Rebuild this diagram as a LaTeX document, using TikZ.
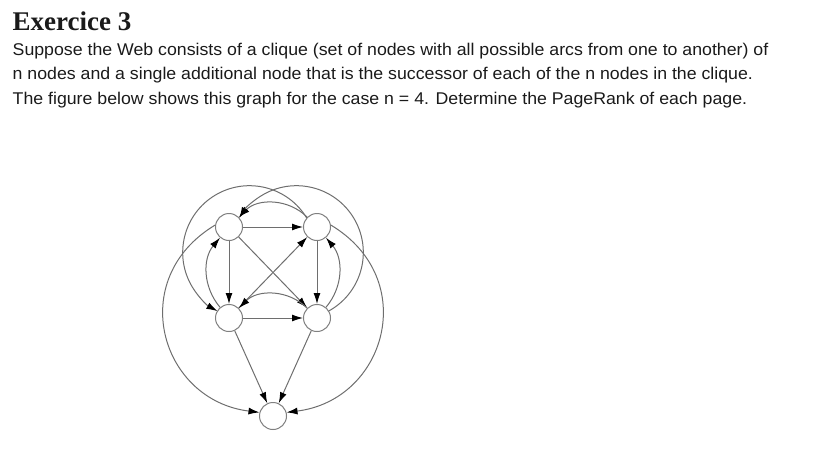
\documentclass[tikz,border=0pt]{standalone}
\usepackage{fontspec}
\setmainfont{Liberation Serif}
\newfontfamily\bodyfont{Liberation Sans}
\usetikzlibrary{arrows.meta,calc}
\definecolor{edgegray}{HTML}{6E6E6E}
\definecolor{nodegray}{HTML}{808080}
\definecolor{textblack}{HTML}{1A1A1A}
\begin{document}
\begin{tikzpicture}[x=1pt,y=1pt,
  pagenode/.style={circle,draw=nodegray,fill=white,line width=1pt,minimum size=27pt,inner sep=0pt},
  link/.style={draw=edgegray,line width=1pt,-{Latex[length=11pt,width=7pt,color=black]}},
  bodytext/.style={anchor=base west,inner sep=0pt,text=textblack,font=\bodyfont\fontsize{17}{20}\selectfont}]
\useasboundingbox (0,0) rectangle (833,-461);
\node[anchor=base west,inner sep=0pt,text=textblack,font=\fontsize{27}{30}\selectfont\bfseries] (title) at (12.5,-30.5) {Exercice 3};
\node[bodytext] (l1) at (12.5,-55) {\scalebox{1.043}[1]{Suppose the Web consists of a clique (set of nodes with all possible arcs from one to another) of}};
\node[bodytext] (l2) at (12.5,-79.5) {\scalebox{1.043}[1]{n nodes and a single additional node that is the successor of each of the n nodes in the clique.}};
\node[bodytext] (l3) at (12.5,-104) {\scalebox{1.043}[1]{The figure below shows this graph for the case n = 4. Determine the PageRank of each page.}};

\node[pagenode] (A) at (229,-227) {};
\node[pagenode] (B) at (317,-227) {};
\node[pagenode] (C) at (229,-318) {};
\node[pagenode] (D) at (317,-318) {};
\node[pagenode] (E) at (273,-416) {};
\coordinate (O1) at (249.5,-252.5);
\coordinate (O2) at (296.5,-252.5);

\draw[link] (A) -- (B);
\draw[link] (A) -- (C);
\draw[link] (B) -- (D);
\draw[link] (C) -- (D);
\draw[link] (A) -- (D);
\draw[link] (C) -- (B);
\draw[link] (C) -- (E);
\draw[link] (D) -- (E);
\draw[link] (B) to[bend right=45] (A);
\draw[link] (D) to[bend right=45] (C);
\draw[link] (C) to[bend left=40] (A);
\draw[link] (D) to[bend right=40] (B);
\draw[link] ($(O1)+(31:66.8)$) arc[start angle=31,end angle=241.3,radius=66.8];
\draw[link] ($(O2)+(-61.3:66.8)$) arc[start angle=-61.3,end angle=149,radius=66.8];
\draw[link] (A.172) .. controls +(211:105) and +(173:100) .. (E.165);
\draw[link] (B.8) .. controls +(-31:105) and +(7:100) .. (E.15);
\end{tikzpicture}
\end{document}
